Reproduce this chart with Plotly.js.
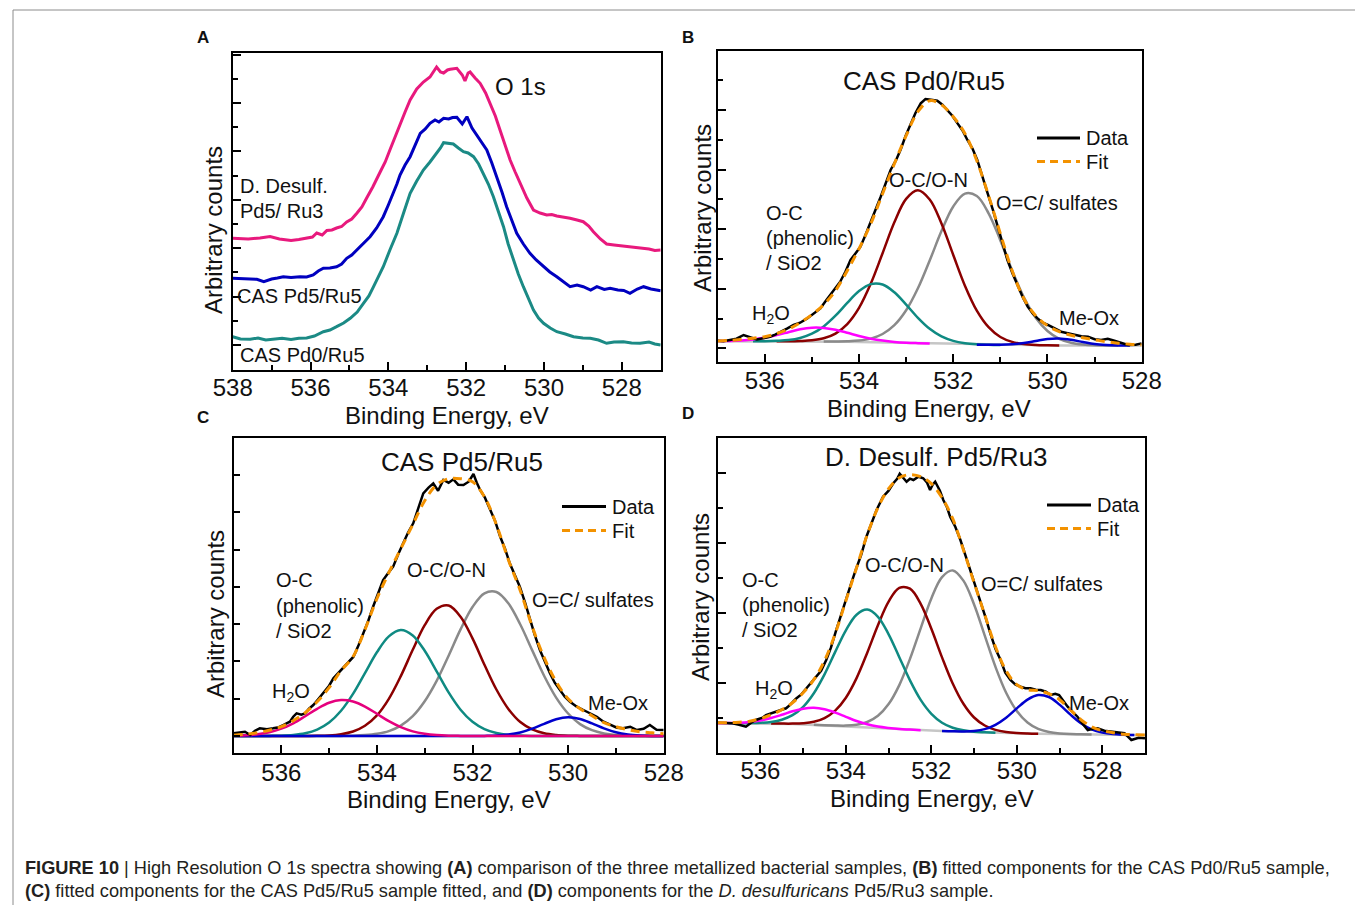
<!DOCTYPE html>
<html><head><meta charset="utf-8">
<script src="https://cdn.plot.ly/plotly-3.0.1.min.js"></script>
<style>html,body{margin:0;padding:0;background:#fff;}#chart{width:1355px;height:905px;}</style>
</head><body><div id="chart"></div>
<script>
// ---------------- Panel A : O 1s comparison (energy eV, counts) ----------------
const aDesulf = [[538,131.7],[537.6,131],[537.3,132],[537.04,133.5],[536.8,131],[536.5,129.5],[536.3,130.5],[536.1,131.7],[535.95,133],[535.84,137],[535.7,135],[535.58,139.5],[535.45,140],[535.33,142],[535.2,143.5],[535.07,148],[534.94,151],[534.81,156.7],[534.68,163],[534.56,171.7],[534.4,183],[534.21,198],[534.08,208],[533.96,220],[533.83,233],[533.7,246.7],[533.57,258],[533.44,270],[533.27,281],[533.1,288],[532.93,293],[532.76,303],[532.66,298],[532.58,297],[532.48,300],[532.41,300.7],[532.3,301],[532.24,301.7],[532.1,295],[532.03,289],[531.95,297],[531.9,298],[531.77,292],[531.64,286.7],[531.5,277],[531.38,266.7],[531.25,254],[531.13,240],[531.0,225],[530.87,210],[530.74,198],[530.61,186.7],[530.44,172],[530.27,160],[530.1,157],[529.93,155],[529.8,155.5],[529.67,154],[529.5,153],[529.33,151.7],[529.15,150],[528.99,148.3],[528.85,144],[528.73,138.3],[528.55,131],[528.39,126],[528.2,125],[527.96,124],[527.75,122.5],[527.53,121.7],[527.3,121],[527.15,119.5],[527.0,120]];
const aPd5Ru5 = [[538,91.7],[537.75,91],[537.55,90.7],[537.38,90.7],[537.2,88.3],[537.0,91],[536.85,92],[536.7,93.3],[536.5,92.5],[536.27,93.3],[536.1,93],[535.93,95],[535.8,99],[535.67,101.7],[535.5,102],[535.33,103.3],[535.2,106],[535.07,111.7],[534.94,115],[534.81,120],[534.64,127],[534.47,133.3],[534.3,142],[534.13,153.3],[534.0,165],[533.87,176.7],[533.78,186],[533.7,195],[533.57,205],[533.44,213.3],[533.3,225],[533.18,236.7],[533.05,241],[532.93,246.7],[532.8,250],[532.7,248],[532.58,251.7],[532.45,251],[532.35,252.5],[532.24,252.7],[532.1,246],[531.98,253.3],[531.85,242],[531.73,235],[531.6,228],[531.47,220],[531.34,207],[531.21,193.3],[531.08,178],[530.96,163.3],[530.83,150],[530.7,136.7],[530.53,126],[530.36,116.7],[530.2,110],[530.01,103.3],[529.85,98],[529.67,93.3],[529.5,88],[529.33,83.3],[529.15,85],[528.99,83.3],[528.8,80],[528.64,83.3],[528.45,80.5],[528.3,81.7],[528.1,80],[527.95,79.5],[527.79,76.7],[527.6,81],[527.44,83.3],[527.25,81],[527.0,79.3]];
const aPd0Ru5 = [[538,33.3],[537.8,31],[537.55,30.7],[537.35,32],[537.15,30],[536.95,31],[536.73,31.7],[536.5,30.5],[536.3,31.7],[536.1,32],[535.9,34],[535.67,38.3],[535.5,40],[535.33,43.3],[535.15,47],[534.98,51.7],[534.8,58],[534.64,66.7],[534.5,74],[534.38,83.3],[534.25,93],[534.13,103.3],[533.96,120],[533.78,136.7],[533.6,158],[533.44,176.7],[533.27,189],[533.1,200],[532.93,208],[532.76,216.7],[532.66,222],[532.58,227.3],[532.45,227],[532.33,226],[532.2,222],[532.07,218.3],[531.95,217],[531.81,213.3],[531.68,206],[531.56,196.7],[531.43,186],[531.3,173.3],[531.17,158],[531.04,143.3],[530.92,126],[530.79,110],[530.66,96],[530.53,83.3],[530.4,71],[530.27,60],[530.14,52],[530.01,46.7],[529.84,42],[529.67,38.3],[529.45,36],[529.24,33.3],[529.0,32],[528.81,31.7],[528.6,30],[528.39,26.7],[528.2,28],[527.96,28.3],[527.75,27],[527.53,26.7],[527.3,28],[527.15,26],[527.0,25]];

// ---------------- Fitted panels: energy grids ----------------
const grid9 = [537,536.75,536.5,536.25,536,535.75,535.5,535.25,535,534.75,534.5,534.25,534,533.75,533.5,533.25,533,532.75,532.5,532.25,532,531.75,531.5,531.25,531,530.75,530.5,530.25,530,529.75,529.5,529.25,529,528.75,528.5,528.25,528];
const grid10 = [537,536.75,536.5,536.25,536,535.75,535.5,535.25,535,534.75,534.5,534.25,534,533.75,533.5,533.25,533,532.75,532.5,532.25,532,531.75,531.5,531.25,531,530.75,530.5,530.25,530,529.75,529.5,529.25,529,528.75,528.5,528.25,528,527.75,527.5,527.25,527];

// ---------------- Panel B : CAS Pd0/Ru5 ----------------
const bData = [[537.0,21],[536.88,20.5],[536.74,21.7],[536.6,23],[536.45,26.7],[536.3,24],[536.17,22.3],[536.03,23.5],[535.89,25],[535.78,27],[535.67,30],[535.53,33],[535.39,36.7],[535.25,39],[535.1,43.3],[534.96,48],[534.82,53.3],[534.72,60],[534.61,66.7],[534.5,73],[534.4,80],[534.29,90],[534.18,101.7],[534.08,108],[533.97,115],[533.87,126],[533.76,138.3],[533.65,152],[533.54,165],[533.43,178],[533.33,191.7],[533.22,201],[533.12,211.7],[533.01,226],[532.9,238.3],[532.8,249],[532.69,258.3],[532.59,262.7],[532.47,262],[532.34,261],[532.23,257],[532.12,251.7],[532.02,246],[531.91,238.3],[531.8,231],[531.7,221.7],[531.59,213],[531.49,201.7],[531.38,186],[531.27,168.3],[531.16,152],[531.06,135],[530.95,118],[530.85,101.7],[530.74,88],[530.63,75],[530.52,64],[530.42,55],[530.31,48],[530.21,43.3],[530.1,39],[529.99,36.7],[529.85,33],[529.71,30],[529.57,28.5],[529.43,26.7],[529.28,25.5],[529.14,25],[529.0,22.5],[528.86,21.7],[528.72,23],[528.58,21],[528.44,19],[528.29,16.7],[528.13,17],[528.0,18.3]];
const bFit = [20.8,21.3,22.3,23.5,25,28,32.5,39,47,57,71,91,113,138,168,198,226,250,261,257,245,228,201,166,128,91,63,46,36,30,26.5,24,22,20,18.5,17.5,16.8];
const bBackground = [20.5,20.5,20.5,20.5,20.4,20.4,20.3,20.3,20.2,20.1,20.0,19.9,19.7,19.5,19.3,19.0,18.7,18.4,18.1,17.8,17.5,17.2,17.0,16.8,16.6,16.5,16.4,16.3,16.3,16.2,16.2,16.2,16.1,16.1,16.1,16.1,16.1];
const bH2O = [0.1,0.3,0.8,1.8,3.6,6.2,9.2,12.1,13.8,13.7,12.0,9.1,6.0,3.5,1.8,0.8,0.3,0.1,0,0,0,0,0,0,0,0,0,0,0,0,0,0,0,0,0,0,0];
const bPhenolic = [0,0,0,0,0.1,0.5,1.3,3.4,7.8,15.2,26.0,38.9,50.9,58.1,57.9,50.4,38.4,25.5,14.8,7.5,3.3,1.3,0.4,0.1,0,0,0,0,0,0,0,0,0,0,0,0,0];
const bOCON = [0,0,0,0,0,0,0.1,0.4,1.2,3.3,8.1,17.7,34.1,58.6,89.2,120.4,144.1,153,144.1,120.4,89.2,58.6,34.1,17.7,8.1,3.3,1.2,0.4,0.1,0,0,0,0,0,0,0,0];
const bSulfates = [0,0,0,0,0,0,0,0,0,0,0.2,0.5,1.4,3.6,8.4,17.5,32.7,55.0,83.1,112.8,137.7,150.9,148.7,131.6,104.7,74.8,48.0,27.7,14.4,6.7,2.8,1.0,0.3,0.1,0,0,0];
const bMeOx = [0,0,0,0,0,0,0,0,0,0,0,0,0,0,0,0,0,0,0,0,0,0,0,0.1,0.3,0.9,2.3,4.4,6.4,7.0,5.7,3.5,1.6,0.6,0.1,0,0];

// ---------------- Panel C : CAS Pd5/Ru5 ----------------
const cData = [[537.0,19.4],[536.88,20],[536.76,21],[536.65,17.7],[536.55,22],[536.45,24.4],[536.3,23.5],[536.17,24.4],[536.05,25.5],[535.96,27.7],[535.82,31],[535.75,36],[535.68,39.4],[535.58,38],[535.5,39.4],[535.42,44],[535.33,47.7],[535.22,54],[535.12,59.4],[535.0,67],[534.91,74.4],[534.8,80],[534.7,86],[534.6,90],[534.49,96],[534.38,108],[534.28,119.4],[534.18,132],[534.08,146],[533.97,160],[533.87,172.7],[533.76,180],[533.66,186],[533.55,199],[533.45,209.4],[533.35,220],[533.24,229.4],[533.13,246],[533.03,259.4],[532.92,265],[532.82,269.4],[532.72,262],[532.61,272.7],[532.5,270],[532.4,273.4],[532.3,268],[532.19,267.7],[532.08,271],[531.98,278.7],[531.91,270],[531.84,262.7],[531.74,255],[531.63,242.7],[531.53,232],[531.42,216],[531.32,204],[531.22,189.4],[531.11,178],[531.01,166],[530.9,150],[530.8,132.7],[530.7,118],[530.59,102.7],[530.49,91],[530.38,79.4],[530.28,70],[530.17,62.7],[530.07,56],[529.96,51],[529.82,46],[529.68,42.7],[529.54,39],[529.4,36],[529.26,31],[529.12,27.7],[528.98,25],[528.85,24.4],[528.7,26],[528.56,22.7],[528.42,24],[528.29,27.7],[528.15,23],[528.0,22.7]];
const cFit = [17.5,18.5,20,22.5,26,32,40,51,65,82,96,123,154,180,204,228,252,268,274,274,271,256,228,193,162,126,95,71,54,44,37,30,26,23,21,20,19];
const cBackground = [16.7,16.7,16.7,16.7,16.7,16.7,16.7,16.7,16.7,16.7,16.7,16.7,16.7,16.7,16.7,16.7,16.7,16.7,16.7,16.7,16.7,16.7,16.7,16.7,16.7,16.7,16.7,16.7,16.7,16.7,16.7,16.7,16.7,16.7,16.7,16.7,16.7];
const cH2O = [0.2,0.7,1.7,3.7,7.3,12.7,19.8,27.2,33.2,35.9,34.5,29.4,22.2,14.8,8.8,4.6,2.2,0.9,0.3,0.1,0,0,0,0,0,0,0,0,0,0,0,0,0,0,0,0,0];
const cPhenolic = [0,0,0,0.1,0.3,1.0,2.7,6.4,13.4,25.2,42.1,62.9,83.7,99.6,106,100.6,85.2,64.6,43.6,26.3,14.2,6.9,3.0,1.1,0.4,0.1,0,0,0,0,0,0,0,0,0,0,0];
const cOCON = [0,0,0,0,0,0,0.1,0.2,0.6,1.8,4.5,10.2,20.6,37.2,59.9,86.2,110.8,127.2,130.5,119.3,97.6,71.3,46.5,27.1,14.0,6.6,2.7,1.0,0.3,0.1,0,0,0,0,0,0,0];
const cSulfates = [0,0,0,0,0,0,0,0,0,0.1,0.3,0.9,2.2,4.9,10.4,19.9,34.8,55.2,80.3,106.6,129.0,142.7,144.0,132.7,111.5,85.6,60.0,38.4,22.5,11.9,5.8,2.6,1.0,0.4,0.1,0,0];
const cMeOx = [0,0,0,0,0,0,0,0,0,0,0,0,0,0,0,0,0,0,0,0,0,0.1,0.4,1.4,3.5,7.3,12.2,16.7,18.7,17.0,12.6,7.6,3.7,1.5,0.5,0.1,0];

// ---------------- Panel D : D. Desulf. Pd5/Ru3 ----------------
const dData = [[537.0,30],[536.8,29.7],[536.66,29.4],[536.5,28],[536.34,26],[536.2,30.5],[536.11,32.7],[535.95,35],[535.87,37.7],[535.64,41],[535.4,44.4],[535.3,48],[535.17,54],[535.05,58],[534.93,64],[534.81,69.4],[534.7,76],[534.58,82],[534.46,92.7],[534.35,105],[534.23,122],[534.1,140],[533.99,154],[533.87,170],[533.76,184],[533.64,198],[533.52,216],[533.4,230],[533.28,243],[533.13,256],[533.0,262],[532.89,269.4],[532.8,274],[532.74,279],[532.66,275],[532.58,271],[532.5,274],[532.42,272.7],[532.3,276],[532.19,274.4],[532.1,270],[532.03,262.7],[531.97,268],[531.91,271],[531.8,262],[531.72,252.7],[531.64,246],[531.56,236],[531.44,226],[531.32,212.7],[531.2,197],[531.09,182.7],[530.97,168],[530.85,152.7],[530.73,135],[530.62,119.4],[530.5,104],[530.38,92.7],[530.27,80],[530.15,72.7],[530.03,68],[529.91,66],[529.8,64.4],[529.68,64.4],[529.56,63],[529.44,62.7],[529.32,61],[529.21,57.7],[529.1,59],[529.01,57.7],[528.9,51],[528.81,46],[528.7,41],[528.58,36],[528.46,29],[528.34,22.7],[528.22,24],[528.11,24.4],[527.95,22],[527.8,21],[527.65,20],[527.48,19.4],[527.4,16],[527.32,12.7],[527.15,15],[527.0,14.4]];
const dFit = [30,30,30.5,31.5,34,38,43,50,60,73,92,119,152,185,218,245,264,275,278,276,269,255,234,203,170,138,106,82,68,63,62,59,53,43,33,26,22,20,18.5,18,17.7];
const dBackground = [29.4,29.4,29.4,29.4,29.3,29.2,29.0,28.7,28.3,27.9,27.4,26.9,26.3,25.7,25.1,24.5,24.0,23.5,23.0,22.5,22.1,21.7,21.3,20.9,20.5,20.2,19.9,19.6,19.3,19.1,18.9,18.7,18.5,18.4,18.3,18.1,18.0,17.9,17.8,17.7,17.7];
const dH2O = [0.1,0.2,0.6,1.4,3.0,5.5,8.9,12.7,15.7,17.0,16.0,13.2,9.6,6.0,3.3,1.6,0.7,0.2,0.1,0,0,0,0,0,0,0,0,0,0,0,0,0,0,0,0,0,0,0,0,0,0];
const dPhenolic = [0,0,0.1,0.2,0.6,1.6,4.0,8.8,17.6,31.6,51.0,73.9,96.1,112.3,118,111.4,94.4,72.0,49.3,30.3,16.8,8.3,3.7,1.5,0.5,0.2,0,0,0,0,0,0,0,0,0,0,0,0,0,0,0];
const dOCON = [0,0,0,0,0,0,0.1,0.4,1.2,3.0,7.2,15.2,28.7,48.9,74.9,103.0,127.1,141.3,141.0,126.4,101.8,73.6,47.9,28.0,14.7,7.0,2.9,1.1,0.4,0.1,0,0,0,0,0,0,0,0,0,0,0];
const dSulfates = [0,0,0,0,0,0,0,0,0,0,0.1,0.3,0.8,2.3,5.6,12.4,24.6,44.1,70.8,101.9,132.2,153.9,161,151.2,127.7,96.9,66.0,40.4,22.4,11.1,4.9,2.0,0.7,0.2,0.1,0,0,0,0,0,0];
const dMeOx = [0,0,0,0,0,0,0,0,0,0,0,0,0,0,0,0,0,0,0,0,0,0,0.1,0.4,1.3,3.4,8.0,15.4,25.0,34.0,38.8,37.0,29.6,19.9,11.2,5.3,2.1,0.7,0.2,0,0];

const xTickLabels = ['538','536','534','532','530','528'];
const xTickVals = [538,536,534,532,530,528];
const legendLabels = ['Data','Fit'];

// ---------------- drawing ----------------
const W = 1355, H = 905;
const fx = x => x / W, fy = y => 1 - y / H;
const FONT = 'Liberation Sans, Arial, Helvetica, sans-serif';
const INK = '#111111';
const COL = {magenta:'#ff00ff', pink:'#e5007d', teal:'#0f8a82', red:'#8b0000', gray:'#8a8a8a', blue:'#0000cd', base:'#c6c6c6', fit:'#f39200',
             aPink:'#e8197d', aBlue:'#0000bf', aTeal:'#1b8a85'};

const frames = [
  {id:'',  l:232.7, r:660.7,  t:53.3,  b:370,   xr:[538,527], t0:25,   dt:48.4, mt0:25,   mdt:24.2, so:-5},
  {id:'2', l:717.7, r:1141.7, t:50.7,  b:361.7, xr:[537,528], t0:13.4, dt:59.6, mt0:13.4, mdt:29.8, so:-4},
  {id:'3', l:233.5, r:663.7,  t:438.3, b:752.7, xr:[537,528], t0:16.7, dt:37.3, mt0:null, mdt:null, so:-3},
  {id:'4', l:717.7, r:1145,   t:438.3, b:752.7, xr:[537,527], t0:69.4, dt:70,   mt0:34.4, mdt:35,   so:-5}
];

const layout = {
  width: W, height: H, margin:{l:0,r:0,t:0,b:0,pad:0},
  paper_bgcolor:'#ffffff', plot_bgcolor:'#ffffff',
  font:{family:FONT, color:INK}, showlegend:false, hovermode:false,
  annotations:[], shapes:[]
};

frames.forEach(f => {
  layout['xaxis'+f.id] = {
    domain:[fx(f.l), fx(f.r)], range:f.xr, anchor:'y'+f.id, automargin:false,
    showline:true, mirror:true, linecolor:'#000', linewidth:2,
    showgrid:false, zeroline:false,
    ticks:'inside', ticklen:8, tickwidth:2, tickcolor:'#000',
    tickmode:'array', tickvals:xTickVals, ticktext:xTickLabels, ticklabelstandoff:f.so,
    tickfont:{size:24, color:'#111', family:FONT},
    minor:{ticks:'inside', dtick:1, tick0:0, ticklen:5, tickwidth:2, tickcolor:'#000', showgrid:false}
  };
  const ya = {
    domain:[fy(f.b), fy(f.t)], range:[0, f.b - f.t], anchor:'x'+f.id, automargin:false,
    showline:true, mirror:true, linecolor:'#000', linewidth:2,
    showgrid:false, zeroline:false, showticklabels:false,
    ticks:'inside', ticklen:8, tickwidth:2, tickcolor:'#000', tick0:f.t0, dtick:f.dt
  };
  if (f.mdt) ya.minor = {ticks:'inside', tick0:f.mt0, dtick:f.mdt, ticklen:5, tickwidth:2, tickcolor:'#000', showgrid:false};
  else ya.ticklen = 6;
  layout['yaxis'+f.id] = ya;
});

const traces = [];
const ax = id => ({xaxis:'x'+id, yaxis:'y'+id});
const line = (pairs, color, width, id) => Object.assign({
  type:'scatter', mode:'lines', x:pairs.map(p=>p[0]), y:pairs.map(p=>p[1]),
  line:{color, width}, showlegend:false}, ax(id));

// Panel A
traces.push(line(aPd0Ru5, COL.aTeal, 3, ''));
traces.push(line(aPd5Ru5, COL.aBlue, 3, ''));
traces.push(line(aDesulf, COL.aPink, 3, ''));

function fitted(id, grid, bg, comps, data, fit, trim) {
  traces.push(Object.assign({type:'scatter', mode:'lines', x:grid, y:bg, line:{color:COL.base, width:2.5}, showlegend:false}, ax(id)));
  comps.forEach(c => {
    let idx = grid.map((_, i) => i);
    if (trim) idx = idx.filter(i => c.v[i] > 0 || c.v[i-1] > 0 || c.v[i+1] > 0);
    traces.push(Object.assign({type:'scatter', mode:'lines', x:idx.map(i=>grid[i]), y:idx.map(i=>c.v[i]+bg[i]),
      line:{color:c.col, width:2.5, shape:'spline', smoothing:1}, showlegend:false}, ax(id)));
  });
  traces.push(Object.assign({type:'scatter', mode:'lines', name:legendLabels[0], x:data.map(p=>p[0]), y:data.map(p=>p[1]),
    line:{color:'#000', width:2.5}}, ax(id)));
  traces.push(Object.assign({type:'scatter', mode:'lines', name:legendLabels[1], x:grid, y:fit,
    line:{color:COL.fit, width:3, dash:'9px,6px', shape:'spline', smoothing:1}}, ax(id)));
}
fitted('2', grid9, bBackground, [
  {v:bSulfates, col:COL.gray},{v:bOCON, col:COL.red},{v:bPhenolic, col:COL.teal},{v:bMeOx, col:COL.blue},{v:bH2O, col:COL.magenta}],
  bData, bFit, true);
fitted('3', grid9, cBackground, [
  {v:cSulfates, col:COL.gray},{v:cOCON, col:COL.red},{v:cPhenolic, col:COL.teal},{v:cMeOx, col:COL.blue},{v:cH2O, col:COL.pink}],
  cData, cFit, false);
fitted('4', grid10, dBackground, [
  {v:dSulfates, col:COL.gray},{v:dOCON, col:COL.red},{v:dPhenolic, col:COL.teal},{v:dMeOx, col:COL.blue},{v:dH2O, col:COL.magenta}],
  dData, dFit, true);

// legend keys (drawn as shapes + labels)
const legendSpots = [
  {x0:1037, x1:1080, y:138, ty:161.5},
  {x0:562,  x1:606,  y:506.5, ty:530.5},
  {x0:1047, x1:1091, y:505, ty:528.5}
];
legendSpots.forEach(s => {
  layout.shapes.push({type:'line', xref:'paper', yref:'paper', x0:fx(s.x0), x1:fx(s.x1), y0:fy(s.y), y1:fy(s.y), line:{color:'#000', width:3}});
  layout.shapes.push({type:'line', xref:'paper', yref:'paper', x0:fx(s.x0), x1:fx(s.x1), y0:fy(s.ty), y1:fy(s.ty), line:{color:COL.fit, width:3, dash:'8px,5px'}});
  layout.annotations.push({text:legendLabels[0], xref:'paper', yref:'paper', x:fx(s.x1+5), y:fy(s.y), xanchor:'left', yanchor:'middle', showarrow:false, font:{size:20, family:FONT, color:INK}, borderpad:0});
  layout.annotations.push({text:legendLabels[1], xref:'paper', yref:'paper', x:fx(s.x1+5), y:fy(s.ty), xanchor:'left', yanchor:'middle', showarrow:false, font:{size:20, family:FONT, color:INK}, borderpad:0});
});

// texts
const texts = [
  {t:'<b>A</b>', x:203, y:38, s:17},
  {t:'<b>B</b>', x:688, y:38, s:17},
  {t:'<b>C</b>', x:203, y:417, s:17},
  {t:'<b>D</b>', x:688, y:413, s:17},
  {t:'O 1s', x:520, y:86, s:24},
  {t:'D. Desulf.', x:239, y:186, s:20, a:'left'},
  {t:'Pd5/ Ru3', x:239, y:211, s:20, a:'left'},
  {t:'CAS Pd5/Ru5', x:236, y:296, s:20, a:'left'},
  {t:'CAS Pd0/Ru5', x:239, y:355, s:20, a:'left'},
  {t:'Binding Energy, eV', x:447, y:415, s:24},
  {t:'Arbitrary counts', x:213, y:230, s:24, rot:-90},
  {t:'CAS Pd0/Ru5', x:924, y:81, s:26},
  {t:'O-C/O-N', x:928, y:180, s:20},
  {t:'O=C/ sulfates', x:995, y:203, s:20, a:'left'},
  {t:'O-C', x:765, y:213, s:20, a:'left'},
  {t:'(phenolic)', x:765, y:238, s:20, a:'left'},
  {t:'/ SiO2', x:765, y:263, s:20, a:'left'},
  {t:'H<sub>2</sub>O', x:751, y:314, s:20, a:'left'},
  {t:'Me-Ox', x:1058, y:318, s:20, a:'left'},
  {t:'Binding Energy, eV', x:929, y:409, s:24},
  {t:'Arbitrary counts', x:702, y:208, s:24, rot:-90},
  {t:'CAS Pd5/Ru5', x:462, y:462, s:26},
  {t:'O-C/O-N', x:447, y:570, s:20},
  {t:'O=C/ sulfates', x:531, y:600, s:20, a:'left'},
  {t:'O-C', x:275, y:580, s:20, a:'left'},
  {t:'(phenolic)', x:275, y:606, s:20, a:'left'},
  {t:'/ SiO2', x:275, y:631, s:20, a:'left'},
  {t:'H<sub>2</sub>O', x:271, y:692, s:20, a:'left'},
  {t:'Me-Ox', x:587, y:703, s:20, a:'left'},
  {t:'Binding Energy, eV', x:449, y:799, s:24},
  {t:'Arbitrary counts', x:215, y:614, s:24, rot:-90},
  {t:'D. Desulf. Pd5/Ru3', x:936, y:457, s:26},
  {t:'O-C/O-N', x:905, y:565, s:20},
  {t:'O=C/ sulfates', x:980, y:584, s:20, a:'left'},
  {t:'O-C', x:741, y:580, s:20, a:'left'},
  {t:'(phenolic)', x:741, y:605, s:20, a:'left'},
  {t:'/ SiO2', x:741, y:630, s:20, a:'left'},
  {t:'H<sub>2</sub>O', x:754, y:689, s:20, a:'left'},
  {t:'Me-Ox', x:1068, y:703, s:20, a:'left'},
  {t:'Binding Energy, eV', x:932, y:798, s:24},
  {t:'Arbitrary counts', x:700, y:597, s:24, rot:-90}
];
texts.forEach(o => layout.annotations.push({
  text:o.t, xref:'paper', yref:'paper', x:fx(o.x), y:fy(o.y), xanchor:o.a||'center', yanchor:'middle',
  showarrow:false, textangle:o.rot||0, font:{size:o.s, family:FONT, color:INK}, borderpad:0
}));
const caption = [
  '<b>FIGURE 10</b> | High Resolution O 1s spectra showing <b>(A)</b> comparison of the three metallized bacterial samples, <b>(B)</b> fitted components for the CAS Pd0/Ru5 sample,',
  '<b>(C)</b> fitted components for the CAS Pd5/Ru5 sample fitted, and <b>(D)</b> components for the <i>D. desulfuricans</i> Pd5/Ru3 sample.'
];
[868, 891].forEach((yy, i) => layout.annotations.push({
  text:caption[i], xref:'paper', yref:'paper', x:fx(24), y:fy(yy), xanchor:'left', yanchor:'middle',
  showarrow:false, align:'left', font:{size:18.2, family:FONT, color:'#231f20'}, borderpad:0
}));
layout.shapes.push(
  {type:'line', xref:'paper', yref:'paper', x0:fx(13), x1:1, y0:fy(10), y1:fy(10), line:{color:'#8c8c8c', width:1}},
  {type:'line', xref:'paper', yref:'paper', x0:fx(13), x1:fx(13), y0:fy(10), y1:0, line:{color:'#8c8c8c', width:1}}
);

Plotly.newPlot('chart', traces, layout, {displayModeBar:false, staticPlot:true});
</script></body></html>
